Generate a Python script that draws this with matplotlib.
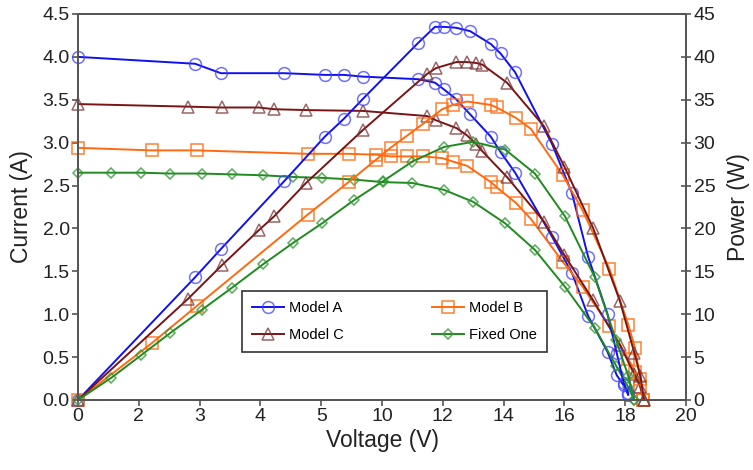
import matplotlib
matplotlib.use("Agg")
import matplotlib.pyplot as plt

plt.rcParams['font.family'] = ['Liberation Sans', 'DejaVu Sans']

# ---- data ----
x_tick_values = [0, 2, 4, 6, 8, 10, 12, 14, 16, 18, 20]
x_tick_labels = ['0', '2', '3', '4', '5', '10', '12', '14', '16', '18', '20']
y_left_ticks = [0.0, 0.5, 1.0, 1.5, 2.0, 2.5, 3.0, 3.5, 4.0, 4.5]
y_right_ticks = [0, 5, 10, 15, 20, 25, 30, 35, 40, 45]

series_names = ['Model A', 'Model B', 'Model C', 'Fixed One']

volt_A = [0, 3.85, 4.7, 6.78, 8.12, 8.75, 9.37, 11.18, 11.74, 12.04, 12.43, 12.9,
          13.58, 13.9, 14.38, 15.6, 16.25, 16.78, 17.42, 17.72, 17.95, 18.1]
curr_A = [4.00, 3.92, 3.81, 3.81, 3.79, 3.79, 3.77, 3.74, 3.70, 3.62, 3.51, 3.33,
          3.07, 2.89, 2.65, 1.90, 1.48, 0.98, 0.56, 0.29, 0.17, 0.06]
pow_A = [0, 14.3, 17.6, 25.5, 30.7, 32.8, 35.1, 41.6, 43.5, 43.5, 43.4, 43.0,
         41.5, 40.4, 38.2, 29.8, 24.1, 16.7, 10.0, 5.5, 2.0, 0.8]

volt_B = [0, 2.42, 3.92, 7.55, 8.9, 9.8, 10.28, 10.82, 11.35, 11.98, 12.33, 12.8,
          13.58, 13.77, 14.4, 14.9, 15.95, 16.6, 17.48, 18.1, 18.32, 18.5, 18.6]
curr_B = [2.94, 2.91, 2.91, 2.87, 2.87, 2.86, 2.84, 2.84, 2.84, 2.82, 2.78, 2.73,
          2.54, 2.48, 2.30, 2.11, 1.61, 1.32, 0.86, 0.48, 0.33, 0.15, 0.0]
pow_B = [0, 6.6, 11.0, 21.6, 25.4, 28.0, 29.4, 30.8, 32.2, 33.9, 34.4, 34.8,
         34.4, 34.1, 32.9, 31.6, 26.2, 22.1, 15.3, 8.8, 6.1, 2.5, 0.0]

volt_C = [0, 3.62, 4.73, 5.95, 6.45, 7.5, 9.38, 11.48, 11.78, 12.45, 12.78, 13.08,
          13.3, 14.11, 15.33, 16.0, 16.95, 17.83, 18.3, 18.5, 18.62]
curr_C = [3.45, 3.42, 3.41, 3.41, 3.39, 3.38, 3.37, 3.31, 3.26, 3.17, 3.09, 2.99,
          2.90, 2.60, 2.08, 1.69, 1.16, 0.64, 0.30, 0.15, 0.0]
pow_C = [0, 11.8, 15.7, 19.8, 21.4, 25.3, 31.5, 38.0, 38.7, 39.4, 39.4, 39.3,
         39.1, 37.0, 31.9, 27.2, 20.0, 11.5, 5.5, 2.8, 0.0]

volt_F = [0, 1.1, 2.07, 3.03, 4.07, 5.07, 6.08, 7.07, 8.03, 9.08, 10.03, 11.0,
          12.04, 13.0, 14.05, 15.03, 16.02, 17.0, 17.7, 18.1, 18.3]
curr_F = [2.65, 2.65, 2.65, 2.64, 2.64, 2.63, 2.62, 2.60, 2.59, 2.57, 2.54, 2.53,
          2.45, 2.31, 2.06, 1.75, 1.32, 0.84, 0.40, 0.15, 0.0]
pow_F = [0, 2.6, 5.2, 7.8, 10.5, 13.1, 15.8, 18.3, 20.6, 23.3, 25.5, 27.8,
         29.5, 30.1, 29.2, 26.4, 21.4, 14.3, 7.0, 2.8, 0.0]

voltages = [volt_A, volt_B, volt_C, volt_F]
currents = [curr_A, curr_B, curr_C, curr_F]
powers = [pow_A, pow_B, pow_C, pow_F]

colors = ['#1010f0', '#ff6a10', '#7a1414', '#1f8a1f']
marker_edges = [(0.25, 0.25, 1.0, 0.75), (1.0, 0.42, 0.06, 0.85),
                (0.48, 0.2, 0.2, 0.75), (0.2, 0.6, 0.2, 0.8)]
markers = ['o', 's', '^', 'D']
msizes = [8.5, 8.5, 8.5, 5.5]

# ---- figure ----
fig = plt.figure(figsize=(7.53, 4.70), dpi=100)
ax = fig.add_axes([78 / 753, 70 / 470, 608 / 753, 386 / 470])
ax2 = ax.twinx()

handles = []
for v, i, p, c, me, m, ms, name in zip(voltages, currents, powers, colors,
                                       marker_edges, markers, msizes, series_names):
    h, = ax.plot(v, i, color=c, lw=1.4, marker=m, ms=ms, mfc='none',
                 mec=me, mew=1.1, label=name, clip_on=False)
    ax2.plot(v, p, color=c, lw=1.4, marker=m, ms=ms, mfc='none',
             mec=me, mew=1.1, clip_on=False)
    handles.append(h)

ax.set_xlim(0, 20)
ax.set_ylim(0, 4.5)
ax2.set_ylim(0, 45)

ax.set_xticks(x_tick_values)
ax.set_xticklabels(x_tick_labels)
ax.set_yticks(y_left_ticks)
ax.set_yticklabels([f'{t:.1f}' for t in y_left_ticks])
ax2.set_yticks(y_right_ticks)
ax2.set_yticklabels([str(t) for t in y_right_ticks])

spine_col = '#555555'
for a in (ax, ax2):
    for s in a.spines.values():
        s.set_color(spine_col)
        s.set_linewidth(1.3)
ax.tick_params(axis='both', labelsize=14, colors='#222222', direction='out',
               length=4, width=1.2, pad=2)
ax.tick_params(axis='both', color=spine_col)
ax2.tick_params(axis='y', labelsize=14, labelcolor='#222222', direction='inout',
                length=7, width=1.2, color=spine_col, pad=2)

ax.set_xlabel('Voltage (V)', fontsize=16.5, color='#222222', labelpad=3)
ax.set_ylabel('Current (A)', fontsize=16.5, color='#222222', labelpad=7)
ax2.set_ylabel('Power (W)', fontsize=16.5, color='#222222', labelpad=8)

# legend order: Model A, Model C | Model B, Fixed One (column-major)
order = [0, 2, 1, 3]
leg = ax.legend([handles[k] for k in order], [series_names[k] for k in order],
                ncol=2, loc='lower left',
                bbox_to_anchor=(0.27, 0.124, 0.501, 0.158), mode='expand',
                fontsize=10.5, frameon=True, fancybox=False, framealpha=1,
                edgecolor='#333333', handlelength=2.2, handletextpad=0.3,
                borderpad=0.7, labelspacing=0.9, borderaxespad=0)
leg.get_frame().set_linewidth(1.2)
leg.set_zorder(5)

fig.savefig('out.png', dpi=100)
